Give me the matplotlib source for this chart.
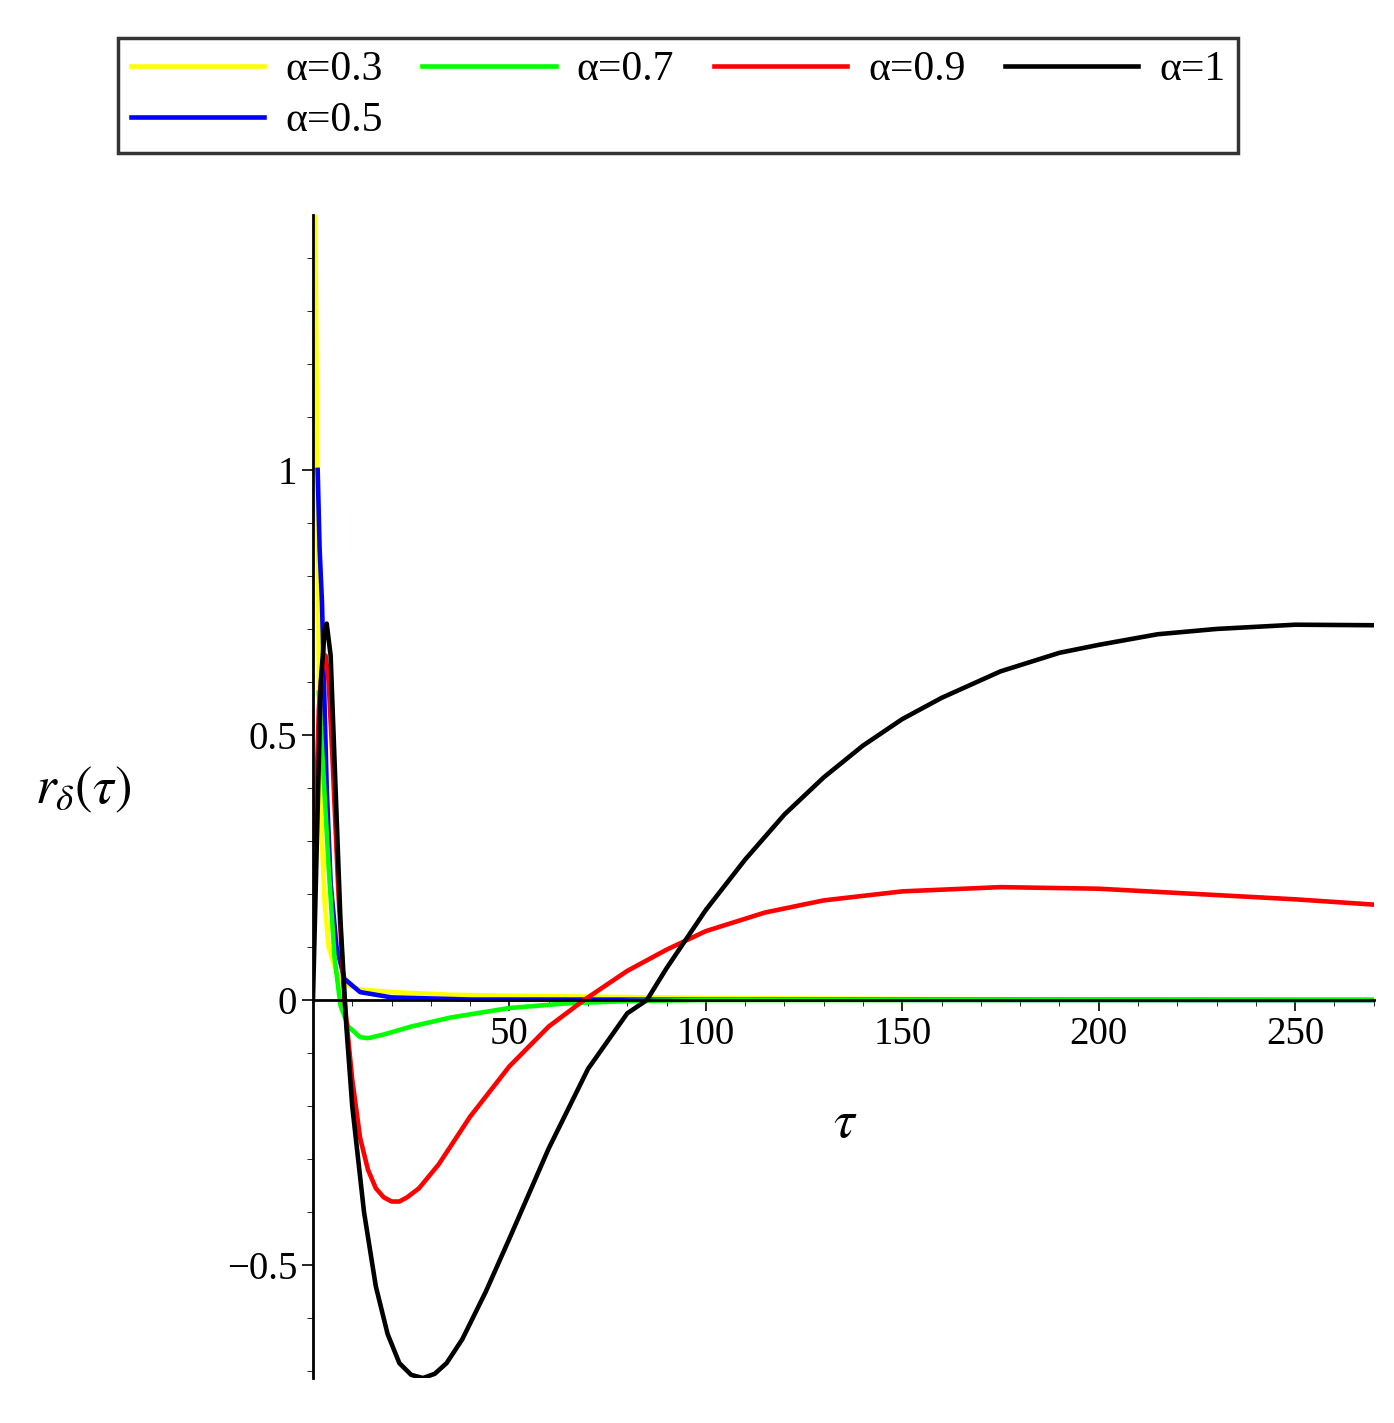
import matplotlib
matplotlib.use("Agg")
import matplotlib.pyplot as plt
from matplotlib.ticker import MultipleLocator

plt.rcParams['font.family'] = ['Liberation Serif', 'DejaVu Serif']
plt.rcParams['mathtext.fontset'] = 'stix'

labels = ["α=0.3", "α=0.5", "α=0.7", "α=0.9", "α=1"]
colors = ["#ffff00", "#0000ff", "#00ff00", "#ff0000", "#000000"]

t03 = [0.6, 1, 1.5, 2, 3, 4, 6, 8, 12, 20, 35, 50, 75, 100, 150, 200, 270]
y03 = [1.48, 1.1, 0.6, 0.35, 0.18, 0.1, 0.05, 0.03, 0.02, 0.015, 0.01, 0.008, 0.006, 0.004, 0.002, 0.001, 0.0005]
t05 = [1.2, 1.7, 2.3, 2.8, 3.5, 4.5, 6, 8, 12, 20, 40, 270]
y05 = [1.0, 0.85, 0.75, 0.6, 0.4, 0.22, 0.1, 0.04, 0.015, 0.005, 0.001, 0.0]
t07 = [1.5, 2.5, 4, 5.5, 7, 9, 12, 14, 18, 25, 35, 50, 65, 80, 100, 270]
y07 = [0.58, 0.45, 0.25, 0.08, -0.01, -0.05, -0.07, -0.072, -0.065, -0.05, -0.033, -0.015, -0.006, -0.002, 0.0, 0.0]
t09 = [0.5, 1.5, 2.5, 3.2, 4, 5, 6.5, 8, 10, 12, 14, 16, 18, 20, 22, 24, 27, 32, 40, 50, 60, 69, 80, 90, 100, 115, 130, 150, 175, 200, 225, 250, 270]
y09 = [0.3, 0.55, 0.64, 0.65, 0.6, 0.45, 0.2, 0.0, -0.15, -0.26, -0.32, -0.355, -0.372, -0.38, -0.38, -0.372, -0.355, -0.31, -0.22, -0.125, -0.05, 0.0, 0.055, 0.095, 0.13, 0.165, 0.188, 0.205, 0.213, 0.21, 0.2, 0.19, 0.18]
t10 = [0, 1, 2, 3, 3.5, 4.5, 6, 7, 8.5, 10, 13, 16, 19, 22, 25, 28, 31, 34, 38, 44, 50, 60, 70, 80, 85, 90, 100, 110, 120, 130, 140, 150, 160, 175, 190, 200, 215, 230, 250, 270]
y10 = [0, 0.3, 0.6, 0.7, 0.71, 0.65, 0.35, 0.15, -0.05, -0.2, -0.4, -0.54, -0.63, -0.685, -0.707, -0.713, -0.705, -0.685, -0.64, -0.55, -0.45, -0.28, -0.13, -0.025, 0.0, 0.06, 0.17, 0.265, 0.35, 0.42, 0.48, 0.53, 0.57, 0.62, 0.655, 0.67, 0.69, 0.70, 0.708, 0.707]

series = [(t03, y03), (t05, y05), (t07, y07), (t09, y09), (t10, y10)]

fig = plt.figure(figsize=(13.94, 14.23), dpi=100)
ax = fig.add_axes([0.2245, 0.0316, 0.761, 0.817])
handles = []
for (t, y), c, l in zip(series, colors, labels):
    h, = ax.plot(t, y, color=c, lw=3.3, label=l, solid_joinstyle='round')
    handles.append(h)

ax.set_xlim(0, 270)
ax.set_ylim(-0.713, 1.48)
for s in ['top', 'right']:
    ax.spines[s].set_visible(False)
ax.spines['left'].set_position(('data', 0))
ax.spines['bottom'].set_position(('data', 0))
ax.spines['left'].set_linewidth(2)
ax.spines['bottom'].set_linewidth(2)
ax.set_xticks([50, 100, 150, 200, 250])
ax.set_yticks([-0.5, 0, 0.5, 1])
ax.set_yticklabels(["\u22120.5", "0", "0.5", "1"])
ax.xaxis.set_minor_locator(MultipleLocator(10))
ax.yaxis.set_minor_locator(MultipleLocator(0.1))
ax.tick_params(labelsize=28, length=8, width=1.2, direction='out')
ax.tick_params(which='minor', length=4)

fig.text(0.025, 0.445, r"$r_{\delta}(\tau)$", fontsize=38, ha='left', va='center')
fig.text(0.606, 0.21, r"$\tau$", fontsize=38, ha='center', va='center')

leg = fig.legend(handles=handles, labels=labels, ncol=4, loc='upper left',
                 bbox_to_anchor=(0.085, 0.868, 0.803, 0.105), mode='expand',
                 fontsize=30, frameon=True, fancybox=False, edgecolor='black',
                 handlelength=3.2, borderaxespad=0, columnspacing=0.8,
                 handletextpad=0.5, borderpad=0.3, labelspacing=0.3)
leg.get_frame().set_linewidth(2.5)

fig.savefig("out.png", dpi=100)
